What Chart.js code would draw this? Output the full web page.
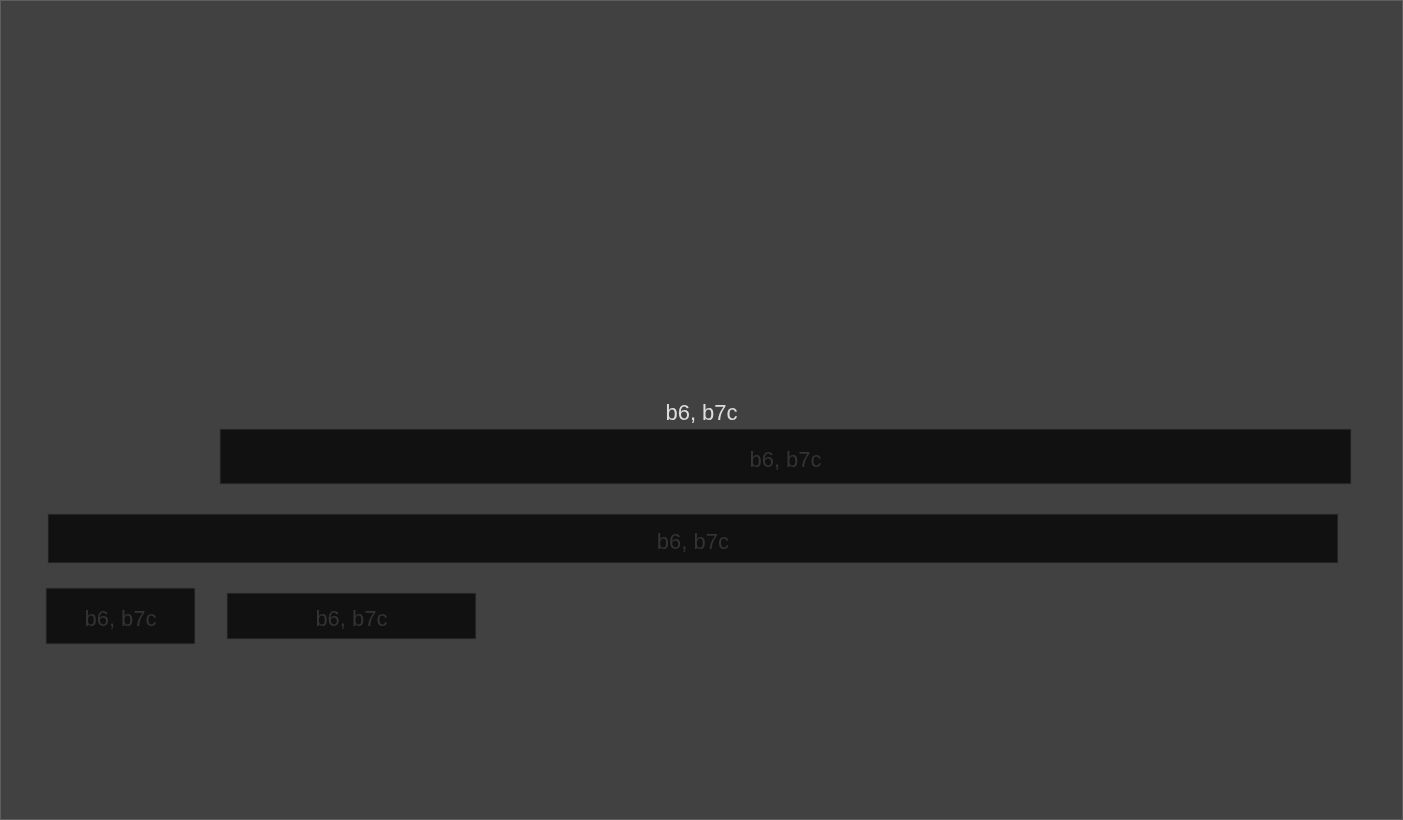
<!DOCTYPE html>
<html>
<head>
<meta charset="utf-8">
<script src="https://cdn.jsdelivr.net/npm/chart.js@4.4.1/dist/chart.umd.min.js"></script>
<style>
html,body{margin:0;padding:0;background:#414141;}
#wrap{width:1403px;height:820px;box-sizing:border-box;border:1px solid #5e5e5e;background:#414141;}
canvas{display:block;}
</style>
</head>
<body>
<div id="wrap"><canvas id="c" width="1401" height="818"></canvas></div>
<script>
// Data (domain: 0-100 on both axes, no axes shown)
const titleText = "b6, b7c";
const titlePos = [50.0, 50.48];
const barLabels = ["b6, b7c", "b6, b7c", "b6, b7c", "b6, b7c"];
const barStarts = [15.63, 3.35, 3.21, 16.13];
const barEnds   = [96.36, 95.43, 13.85, 33.90];
const barRows   = [55.68, 65.71, 75.18, 75.18];
const barThick  = [55, 49, 56, 46];

const datasets = barLabels.map((lab, i) => ({
  label: lab,
  data: [{ x: [barStarts[i], barEnds[i]], y: barRows[i] }],
  backgroundColor: '#111111',
  borderColor: '#2c2c2c',
  borderWidth: 1,
  borderSkipped: false,
  barThickness: barThick[i],
  grouped: false
}));

const labelPlugin = {
  id: 'labels',
  afterDatasetsDraw(chart) {
    const ctx = chart.ctx;
    ctx.save();
    ctx.font = '22px "Liberation Sans", Arial, sans-serif';
    ctx.textAlign = 'center';
    ctx.textBaseline = 'middle';
    chart.data.datasets.forEach((ds, i) => {
      const el = chart.getDatasetMeta(i).data[0];
      const cx = (el.x + el.base) / 2;
      ctx.fillStyle = '#333333';
      ctx.fillText(ds.label, cx, el.y + 4);
    });
    const xs = chart.scales.x, ys = chart.scales.y;
    ctx.fillStyle = '#dddddd';
    ctx.fillText(titleText, xs.getPixelForValue(titlePos[0]), ys.getPixelForValue(titlePos[1]));
    ctx.restore();
  }
};

new Chart(document.getElementById('c'), {
  type: 'bar',
  data: { datasets },
  options: {
    responsive: false,
    animation: false,
    indexAxis: 'y',
    layout: { padding: 0 },
    scales: {
      x: { type: 'linear', min: 0, max: 100, display: false, offset: false },
      y: { type: 'linear', min: 0, max: 100, reverse: true, display: false, offset: false }
    },
    plugins: {
      legend: { display: false },
      tooltip: { enabled: false },
      title: { display: false }
    }
  },
  plugins: [labelPlugin]
});
</script>
</body>
</html>
